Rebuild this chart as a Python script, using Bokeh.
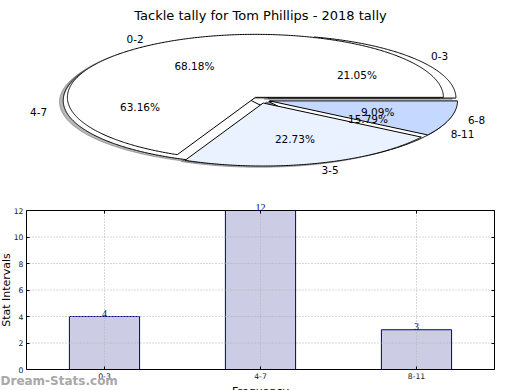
import numpy as np
from bokeh.plotting import figure
from bokeh.layouts import column
from bokeh.models import (Range1d, FactorRange, ColumnDataSource, LabelSet, Label,
                          FixedTicker, LinearAxis, CategoricalAxis)
from bokeh.core.properties import value
from bokeh.embed import file_html
from bokeh.resources import INLINE

# ---------------- data ----------------
title_text = "Tackle tally for Tom Phillips - 2018 tally"
pie1_labels = ["0-2", "3-5", "6-8"]
pie1_values = [15, 5, 2]
pie2_labels = ["0-3", "4-7", "8-11"]
pie2_values = [4, 12, 3]
bar_categories = ["0-3", "4-7", "8-11"]
bar_values = [4, 12, 3]
y_ticks = [0, 2, 4, 6, 8, 10, 12]
x_label = "Frequency"
y_label = "Stat Intervals"
watermark = "Dream-Stats.com"

# ---------------- styles ----------------
FONT = value("DejaVu Sans")
pie1_colors = ["#ffffff", "#eaf1ff", "#c5d8ff"]
pie2_colors = ["#ffffff", "#ffffff", "#ffffff"]
EXPLODE = 0.05
LABEL_DIST = 1.1
PCT_DIST = 0.6


def darker(hexcol, f=0.3):
    h = hexcol.lstrip("#")
    r, g, b = (int(h[i:i + 2], 16) for i in (0, 2, 4))
    return "#%02x%02x%02x" % (int(r * f), int(g * f), int(b * f))


def pie_geometry(labels, values, colors):
    total = float(sum(values))
    theta = 0.0
    out = dict(xs=[], ys=[], sxs=[], sys=[], fill=[], shadow=[],
               lx=[], ly=[], lalign=[], lab=[], px=[], py=[], pct=[])
    for lab, v, c in zip(labels, values, colors):
        t1 = theta
        t2 = theta + 360.0 * v / total
        mid = np.radians((t1 + t2) / 2)
        ox, oy = EXPLODE * np.cos(mid), EXPLODE * np.sin(mid)
        n = max(3, int(abs(t2 - t1) * 2))
        ang = np.radians(np.linspace(t1, t2, n))
        xs = [ox] + list(ox + np.cos(ang)) + [ox]
        ys = [oy] + list(oy + np.sin(ang)) + [oy]
        out["xs"].append(xs)
        out["ys"].append(ys)
        out["sxs"].append([x - 0.02 for x in xs])
        out["sys"].append([y - 0.02 for y in ys])
        out["fill"].append(c)
        out["shadow"].append(darker(c))
        lx = ox + LABEL_DIST * np.cos(mid)
        ly = oy + LABEL_DIST * np.sin(mid)
        out["lx"].append(lx)
        out["ly"].append(ly)
        out["lalign"].append("left" if lx > 0 else "right")
        out["lab"].append(lab)
        out["px"].append(ox + PCT_DIST * np.cos(mid))
        out["py"].append(oy + PCT_DIST * np.sin(mid))
        out["pct"].append("%.2f%%" % (100.0 * v / total))
        theta = t2
    return out


g1 = pie_geometry(pie1_labels, pie1_values, pie1_colors)
g2 = pie_geometry(pie2_labels, pie2_values, pie2_colors)

# ---------------- pie figure ----------------
# pixel mapping: centre (260, 99.5), 188 px per unit in x, 63 px per unit in y
CX, CY, RX, RY = 260.0, 99.5, 188.0, 63.0
W, H1, H2 = 520, 198, 192
xr = Range1d((0 - CX) / RX, (W - CX) / RX)
yr = Range1d((CY - H1) / RY, CY / RY)

p = figure(width=W, height=H1, x_range=xr, y_range=yr, toolbar_location=None,
           output_backend="svg", min_border=0, x_axis_type=None, y_axis_type=None)
p.outline_line_color = None
p.grid.visible = False

for g in (g2, g1):
    p.patches(xs=g["sxs"], ys=g["sys"], fill_color=g["shadow"], line_color=g["shadow"],
              fill_alpha=0.4, line_alpha=0.4)
for g in (g2, g1):
    p.patches(xs=g["xs"], ys=g["ys"], fill_color=g["fill"], line_color="black", line_width=1)

for g in (g1, g2):
    src = ColumnDataSource(dict(x=g["lx"], y=g["ly"], t=g["lab"], a=g["lalign"]))
    p.text(x="x", y="y", text="t", text_align="a", text_baseline="middle",
           text_font=FONT, text_font_size="10.5px", text_color="black", source=src)
    src2 = ColumnDataSource(dict(x=g["px"], y=g["py"], t=g["pct"]))
    p.text(x="x", y="y", text="t", text_align="center", text_baseline="middle",
           text_font=FONT, text_font_size="10.5px", text_color="black", source=src2)

p.text(x=[0.0], y=[(CY - 14.5) / RY], text=[title_text],
       text_align="center", text_baseline="alphabetic", text_font=FONT,
       text_font_size="13px", text_color="black")

# ---------------- bar figure ----------------
# the frame fills the whole figure; axes sit at fixed data locations
ncat = len(bar_categories)
PXX = 156.0                     # px per category
PXY = (369.0 - 210.0) / 12.0    # px per y unit
Y0 = 369.0 - H1                 # px of y=0 from the top of this figure
PAD = (W / PXX - ncat) / 2.0    # padding (categories) on each side
bx = FactorRange(*bar_categories, range_padding=PAD, range_padding_units="absolute")
by = Range1d(-(H2 - Y0) / PXY, Y0 / PXY)

b = figure(width=W, height=H2, x_range=bx, y_range=by, toolbar_location=None,
           output_backend="svg", min_border=0)
b.outline_line_color = None
b.xgrid.visible = False
b.ygrid.visible = False

# dotted grid (drawn over the bars, as in the original)
b.vbar(x=bar_categories, top=bar_values, width=0.45, fill_color="#ccccE5",
       line_color="#000080", line_width=1)
b.segment(x0=bar_categories, x1=bar_categories, y0=[0] * ncat, y1=[y_ticks[-1]] * ncat,
          line_color="#b0b0b0", line_dash="1 2", line_width=1)
b.segment(x0=[0] * len(y_ticks[1:-1]), x1=[ncat] * len(y_ticks[1:-1]),
          y0=y_ticks[1:-1], y1=y_ticks[1:-1],
          line_color="#b0b0b0", line_dash="1 2", line_width=1)
# frame box
b.quad(left=[0], right=[ncat], bottom=[y_ticks[0]], top=[y_ticks[-1]],
       fill_color=None, line_color="black", line_width=1)

# axes
xa = b.xaxis[0]
xa.fixed_location = 0
ya = b.yaxis[0]
ya.fixed_location = 0
ya.ticker = FixedTicker(ticks=y_ticks)
ra = LinearAxis(fixed_location=ncat, ticker=FixedTicker(ticks=y_ticks))
ta = CategoricalAxis(fixed_location=y_ticks[-1])
b.add_layout(ra, "right")
b.add_layout(ta, "above")
for ax in (xa, ya, ra, ta):
    ax.axis_line_color = None
    ax.major_tick_in = 3
    ax.major_tick_out = 0
    ax.major_tick_line_color = "black"
    ax.minor_tick_line_color = None
    ax.major_label_text_font = "DejaVu Sans"
    ax.major_label_text_font_size = "7.7px"
    ax.major_label_text_color = "#222222"
    ax.major_label_standoff = 3
for ax in (ra, ta):
    ax.major_label_text_color = None

vsrc = ColumnDataSource(dict(x=bar_categories, y=bar_values, t=[str(v) for v in bar_values]))
b.add_layout(LabelSet(x="x", y="y", text="t", source=vsrc, text_align="center",
                      text_baseline="alphabetic", text_font="DejaVu Sans",
                      text_font_size="10px", text_color="#000080"))

b.add_layout(Label(x=-20.0 / PXX, y=6, text=y_label, angle=np.pi / 2,
                   text_align="center", text_baseline="middle", text_font="DejaVu Sans",
                   text_font_size="11px", text_color="black"))
b.add_layout(Label(x=ncat / 2.0, y=-15.0 / PXY, text=x_label, text_align="center",
                   text_baseline="top", text_font="DejaVu Sans", text_font_size="11px",
                   text_color="black"))
b.add_layout(Label(x=-PAD, y=-4.0 / PXY, text=watermark, text_align="left",
                   text_baseline="top", text_font="DejaVu Sans", text_font_size="12px",
                   text_font_style="bold", text_color="#a8a8a8"))

layout = column(p, b, spacing=0)
open("out.html", "w").write(file_html(layout, INLINE))
